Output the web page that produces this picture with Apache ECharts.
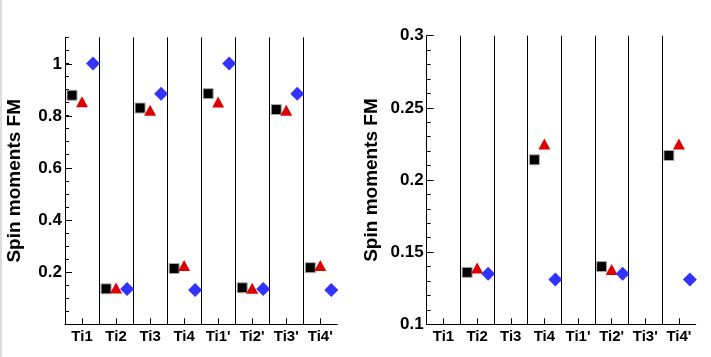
<!DOCTYPE html>
<html>
<head>
<meta charset="utf-8">
<script src="https://cdn.jsdelivr.net/npm/echarts@6/dist/echarts.min.js"></script>
<style>
  html, body { margin: 0; padding: 0; background: #fff; }
  #chart { width: 711px; height: 357px; }
</style>
</head>
<body>
<div id="chart"></div>
<script>
// sites
var categories = ['Ti1', 'Ti2', 'Ti3', 'Ti4', "Ti1'", "Ti2'", "Ti3'", "Ti4'"];
// spin moments, three methods
var squareVals   = [0.878, 0.136, 0.829, 0.214, 0.884, 0.140, 0.823, 0.217];
var triangleVals = [0.853, 0.139, 0.820, 0.225, 0.852, 0.138, 0.820, 0.225];
var diamondVals  = [1.000, 0.135, 0.884, 0.131, 1.000, 0.135, 0.884, 0.131];

var font = 'Liberation Sans, Arial, sans-serif';
var myChart = echarts.init(document.getElementById('chart'));

function catAxis(gridIndex, visible) {
    return {
        type: 'category',
        gridIndex: gridIndex,
        data: categories,
        show: visible,
        axisLine: { lineStyle: { color: '#000', width: 1 } },
        axisTick: { show: true, inside: true, alignWithLabel: true, length: 6, lineStyle: { color: '#000' } },
        axisLabel: { color: '#000', fontFamily: font, fontWeight: 'bold', fontSize: 15, margin: 5 },
        splitLine: { show: true, showMinLine: false, showMaxLine: false, lineStyle: { color: '#000', width: 1 } }
    };
}

function scatterSet(xi, yi) {
    return [
        {
            type: 'scatter', xAxisIndex: xi, yAxisIndex: yi,
            symbol: 'rect', symbolSize: 10, symbolOffset: [-10, 0],
            itemStyle: { color: '#000', borderColor: '#aaa', borderWidth: 1, opacity: 1 },
            data: squareVals
        },
        {
            type: 'scatter', xAxisIndex: xi, yAxisIndex: yi,
            symbol: 'triangle', symbolSize: [12, 11], symbolOffset: [0, 0],
            itemStyle: { color: '#dd0000', opacity: 1 },
            data: triangleVals
        },
        {
            type: 'scatter', xAxisIndex: xi, yAxisIndex: yi,
            symbol: 'diamond', symbolSize: 14, symbolOffset: [11, 0],
            itemStyle: { color: '#3333ff', opacity: 1 },
            data: diamondVals
        }
    ];
}

var option = {
    animation: false,
    backgroundColor: '#fff',
    graphic: [
        { type: 'rect', shape: { x: 0, y: 0, width: 2, height: 357 }, style: { fill: '#dcdcdc' } }
    ],
    grid: [
        { left: 65, top: 37.3, width: 272.3, bottom: 32.7 },
        { left: 65, top: 64.3, width: 272.3, bottom: 32.7 },
        { left: 426.7, top: 35.7, width: 269, bottom: 32.7 }
    ],
    xAxis: [
        catAxis(0, true),
        catAxis(1, false),
        catAxis(2, true)
    ],
    yAxis: [
        {
            type: 'value', gridIndex: 0, min: 0, max: 1.1, interval: 0.05,
            axisLine: { show: true, lineStyle: { color: '#000', width: 1 } },
            axisTick: { show: true, inside: true, length: 4, lineStyle: { color: '#000' } },
            axisLabel: { show: false },
            splitLine: { show: false },
            name: 'Spin moments FM', nameLocation: 'middle', nameGap: 41,
            nameTextStyle: { color: '#000', fontFamily: font, fontWeight: 'bold', fontSize: 19 }
        },
        {
            type: 'value', gridIndex: 1, min: 0, max: 1, interval: 0.2,
            axisLine: { show: false },
            axisTick: { show: true, inside: true, length: 7, lineStyle: { color: '#000' } },
            axisLabel: {
                color: '#000', fontFamily: font, fontWeight: 'bold', fontSize: 17, margin: 3,
                formatter: function (v) { return v === 0 ? '' : String(+v.toFixed(2)); }
            },
            splitLine: { show: false }
        },
        {
            type: 'value', gridIndex: 2, min: 0.1, max: 0.3, interval: 0.05,
            axisLine: { show: true, lineStyle: { color: '#000', width: 1 } },
            axisTick: { show: true, inside: true, length: 7, lineStyle: { color: '#000' } },
            minorTick: { show: true, splitNumber: 5, length: 4, lineStyle: { color: '#000' } },
            axisLabel: {
                color: '#000', fontFamily: font, fontWeight: 'bold', fontSize: 17, margin: 3,
                formatter: function (v) { return String(+v.toFixed(2)); }
            },
            splitLine: { show: false },
            name: 'Spin moments FM', nameLocation: 'middle', nameGap: 45,
            nameTextStyle: { color: '#000', fontFamily: font, fontWeight: 'bold', fontSize: 19 }
        }
    ],
    series: scatterSet(0, 0).concat(scatterSet(2, 2))
};

myChart.setOption(option);
</script>
</body>
</html>
